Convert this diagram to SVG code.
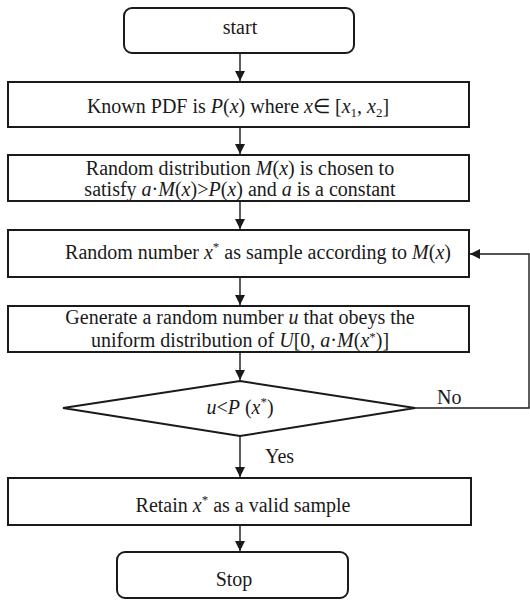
<svg xmlns="http://www.w3.org/2000/svg" width="530" height="601" viewBox="0 0 530 601">
<style>
.box{fill:#fff;stroke:#1a1a1a;stroke-width:2}
.ln{fill:none;stroke:#1a1a1a;stroke-width:1.4}
text{font-family:"Liberation Serif","Times New Roman",serif;font-size:20px;fill:#1a1a1a}
.c{text-anchor:middle}
.i{font-style:italic}
.s{font-size:13px}
</style>
<defs>
<marker id="ah" viewBox="0 0 10 10" refX="10" refY="5" markerWidth="10" markerHeight="10" markerUnits="userSpaceOnUse" orient="auto">
<path d="M0,0 L10,5 L0,10 Z" fill="#1a1a1a"/>
</marker>
</defs>
<g id="connectors">
<line class="ln" x1="240" y1="53" x2="240" y2="81" marker-end="url(#ah)"/>
<line class="ln" x1="240" y1="127" x2="240" y2="154" marker-end="url(#ah)"/>
<line class="ln" x1="240" y1="201" x2="240" y2="229" marker-end="url(#ah)"/>
<line class="ln" x1="240" y1="277" x2="240" y2="305" marker-end="url(#ah)"/>
<line class="ln" x1="240" y1="352" x2="240" y2="380" marker-end="url(#ah)"/>
<line class="ln" x1="240" y1="436" x2="240" y2="477" marker-end="url(#ah)"/>
<line class="ln" x1="240" y1="525" x2="240" y2="551" marker-end="url(#ah)"/>
<polyline class="ln" points="415,408 529,408 529,254 470,254" marker-end="url(#ah)"/>
<text x="437" y="404">No</text>
<text x="265" y="463">Yes</text>
</g>
<g id="start">
<rect class="box" x="124" y="8" width="230" height="45" rx="8"/>
<text class="c" x="240" y="34">start</text>
</g>
<g id="known">
<rect class="box" x="8" y="82" width="461" height="45"/>
<text class="c" x="238" y="113">Known PDF is <tspan class="i">P</tspan>(<tspan class="i">x</tspan>) where <tspan class="i">x</tspan>∈ [<tspan class="i">x</tspan><tspan class="s" dy="4">1</tspan><tspan dy="-4">, </tspan><tspan class="i">x</tspan><tspan class="s" dy="4">2</tspan><tspan dy="-4">]</tspan></text>
</g>
<g id="choose">
<rect class="box" x="8" y="155" width="461" height="46"/>
<text class="c" x="240" y="175">Random distribution <tspan class="i">M</tspan>(<tspan class="i">x</tspan>) is chosen to</text>
<text class="c" x="240" y="196">satisfy <tspan class="i">a</tspan>·<tspan class="i">M</tspan>(<tspan class="i">x</tspan>)&gt;<tspan class="i">P</tspan>(<tspan class="i">x</tspan>) and <tspan class="i">a</tspan> is a constant</text>
</g>
<g id="sample">
<rect class="box" x="8" y="230" width="461" height="47"/>
<text class="c" x="258" y="259">Random number <tspan class="i">x</tspan><tspan class="s" dy="-8">*</tspan><tspan dy="8"> as sample according to </tspan><tspan class="i">M</tspan>(<tspan class="i">x</tspan>)</text>
</g>
<g id="generate">
<rect class="box" x="8" y="306" width="461" height="46"/>
<text class="c" x="240" y="324">Generate a random  number <tspan class="i">u</tspan> that obeys the</text>
<text class="c" x="240" y="347">uniform distribution of <tspan class="i">U</tspan>[0, <tspan class="i">a</tspan>·<tspan class="i">M</tspan>(<tspan class="i">x</tspan><tspan class="s" dy="-6">*</tspan><tspan dy="6">)]</tspan></text>
</g>
<g id="decision">
<polygon class="box" points="240,381 415,408 240,436 63,408"/>
<text class="c" x="240" y="414"><tspan class="i">u</tspan>&lt;<tspan class="i">P</tspan> (<tspan class="i">x</tspan><tspan class="s" dy="-8">*</tspan><tspan dy="8">)</tspan></text>
</g>
<g id="retain">
<rect class="box" x="8" y="478" width="463" height="47"/>
<text class="c" x="243" y="512">Retain <tspan class="i">x</tspan><tspan class="s" dy="-8">*</tspan><tspan dy="8"> as a valid sample</tspan></text>
</g>
<g id="stop">
<rect class="box" x="117" y="552" width="231" height="46" rx="8"/>
<text class="c" x="234" y="586">Stop</text>
</g>
</svg>
